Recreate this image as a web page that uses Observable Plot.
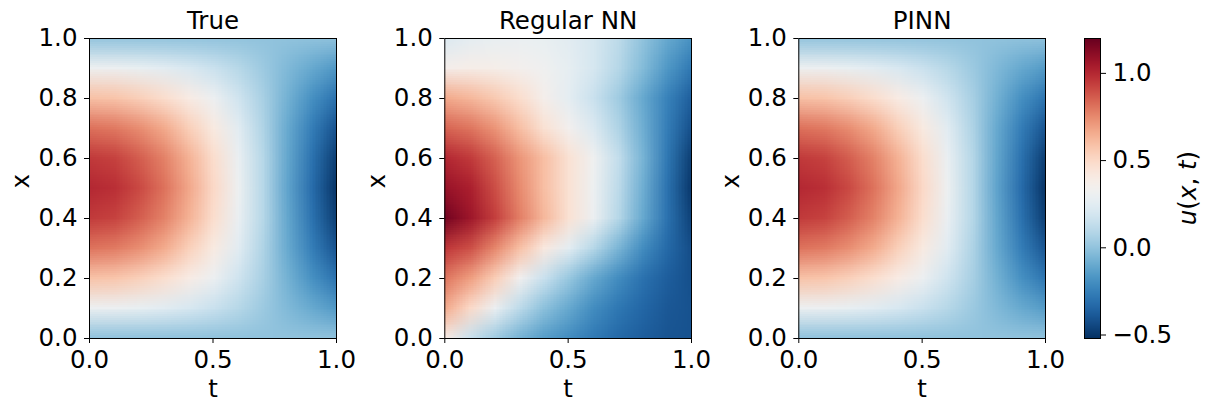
<!DOCTYPE html>
<html>
<head>
<meta charset="utf-8">
<script src="https://cdn.jsdelivr.net/npm/d3@7"></script>
<script src="https://cdn.jsdelivr.net/npm/@observablehq/plot@0.6"></script>
<style>
  html, body { margin: 0; padding: 0; background: white; }
  #fig { position: relative; width: 1211px; height: 411px; background: white; font-family: "DejaVu Sans", sans-serif; }
  #fig > svg { position: absolute; top: 0; }
</style>
</head>
<body>
<div id="fig"></div>
<script>
// Grid coordinates (sample points)
const tGrid = [0, 0.1, 0.2, 0.3, 0.4, 0.5, 0.6, 0.7, 0.8, 0.9, 1.0];
const xGrid = [0, 0.1, 0.2, 0.3, 0.4, 0.5, 0.6, 0.7, 0.8, 0.9, 1.0];

// Panel titles
const titles = ["True", "Regular NN", "PINN"];

// Colour-scale extent and tick labels
const uDomain = [-0.52, 1.2];
const xTicks = [0, 0.5, 1.0];
const yTicks = [0, 0.2, 0.4, 0.6, 0.8, 1.0];
const cbTicks = [-0.5, 0.0, 0.5, 1.0];

// u values: one row per x (0 → 1), columns t (0 → 1)
const uTrue = [
  [0.00, 0.00, 0.00, 0.00, 0.00, 0.00, 0.00, 0.00, 0.00, 0.00, 0.00],
  [0.31, 0.30, 0.28, 0.25, 0.21, 0.16, 0.10, 0.03, -0.04, -0.10, -0.16],
  [0.59, 0.58, 0.54, 0.48, 0.40, 0.30, 0.18, 0.06, -0.07, -0.19, -0.30],
  [0.81, 0.79, 0.74, 0.66, 0.54, 0.41, 0.25, 0.08, -0.10, -0.26, -0.41],
  [0.95, 0.93, 0.86, 0.77, 0.64, 0.48, 0.29, 0.10, -0.11, -0.30, -0.48],
  [1.00, 0.98, 0.91, 0.81, 0.67, 0.50, 0.31, 0.10, -0.12, -0.32, -0.51],
  [0.95, 0.93, 0.86, 0.77, 0.64, 0.48, 0.29, 0.10, -0.11, -0.30, -0.48],
  [0.81, 0.79, 0.74, 0.66, 0.54, 0.41, 0.25, 0.08, -0.10, -0.26, -0.41],
  [0.59, 0.58, 0.54, 0.48, 0.40, 0.30, 0.18, 0.06, -0.07, -0.19, -0.30],
  [0.31, 0.30, 0.28, 0.25, 0.21, 0.16, 0.10, 0.03, -0.04, -0.10, -0.16],
  [0.00, 0.00, 0.00, 0.00, 0.00, 0.00, 0.00, 0.00, 0.00, 0.00, 0.00]
];

const uRegularNN = [
  [0.40, 0.16, 0.04, -0.06, -0.14, -0.20, -0.27, -0.33, -0.37, -0.40, -0.41],
  [0.66, 0.50, 0.30, 0.12, -0.01, -0.10, -0.20, -0.28, -0.34, -0.39, -0.41],
  [0.80, 0.70, 0.55, 0.34, 0.16, 0.02, -0.10, -0.20, -0.30, -0.37, -0.42],
  [0.96, 0.90, 0.76, 0.60, 0.42, 0.26, 0.10, -0.05, -0.20, -0.33, -0.43],
  [1.17, 1.07, 0.94, 0.78, 0.62, 0.46, 0.30, 0.10, -0.10, -0.30, -0.47],
  [1.08, 1.03, 0.90, 0.75, 0.60, 0.46, 0.31, 0.12, -0.08, -0.30, -0.50],
  [1.00, 0.95, 0.85, 0.72, 0.60, 0.46, 0.32, 0.14, -0.06, -0.28, -0.48],
  [0.84, 0.80, 0.72, 0.60, 0.46, 0.34, 0.22, 0.08, -0.08, -0.26, -0.42],
  [0.66, 0.62, 0.56, 0.48, 0.36, 0.26, 0.16, 0.04, -0.10, -0.24, -0.37],
  [0.36, 0.38, 0.37, 0.35, 0.32, 0.27, 0.20, 0.10, -0.03, -0.16, -0.28],
  [0.22, 0.26, 0.28, 0.29, 0.28, 0.25, 0.20, 0.12, 0.00, -0.10, -0.18]
];

const uPINN = [
  [0.00, 0.00, 0.00, 0.00, 0.00, 0.00, 0.00, 0.00, 0.00, 0.00, 0.00],
  [0.31, 0.30, 0.28, 0.25, 0.21, 0.16, 0.10, 0.03, -0.04, -0.10, -0.15],
  [0.59, 0.58, 0.54, 0.48, 0.40, 0.30, 0.18, 0.06, -0.07, -0.19, -0.29],
  [0.81, 0.79, 0.74, 0.66, 0.54, 0.41, 0.25, 0.08, -0.10, -0.26, -0.40],
  [0.95, 0.93, 0.86, 0.77, 0.64, 0.48, 0.29, 0.10, -0.11, -0.30, -0.48],
  [1.00, 0.98, 0.91, 0.81, 0.67, 0.50, 0.31, 0.10, -0.12, -0.32, -0.51],
  [0.95, 0.93, 0.86, 0.77, 0.64, 0.48, 0.29, 0.10, -0.11, -0.30, -0.48],
  [0.81, 0.79, 0.74, 0.66, 0.54, 0.41, 0.25, 0.08, -0.10, -0.26, -0.40],
  [0.59, 0.58, 0.54, 0.48, 0.40, 0.30, 0.18, 0.06, -0.07, -0.19, -0.29],
  [0.31, 0.30, 0.28, 0.25, 0.21, 0.16, 0.10, 0.03, -0.04, -0.10, -0.15],
  [0.00, 0.00, 0.00, 0.00, 0.00, 0.00, 0.00, 0.00, 0.00, 0.00, 0.00]
];

const panels = [uTrue, uRegularNN, uPINN];

// ---------------------------------------------------------------
const FONT = "DejaVu Sans";
const FS = 24.5;
const fmt = d3.format(".1f");
const colorOpts = {type: "linear", scheme: "rdbu", reverse: true, domain: uDomain};
const fig = document.getElementById("fig");

const nT = tGrid.length, nX = xGrid.length;
const halfT = (tGrid[1] - tGrid[0]) / 2, halfX = (xGrid[1] - xGrid[0]) / 2;

// look up the sample whose grid cell contains (t, x)
function sampler(grid) {
  return (t, x) => {
    const j = d3.bisectCenter(tGrid, t);
    const i = d3.bisectCenter(xGrid, x);
    return grid[i][j];
  };
}

const panelLefts = [0, 355, 710];
const marginLefts = [89, 89.3, 88.3];
const marginRights = [19, 19, 20];

panels.forEach((grid, k) => {
  const svg = Plot.plot({
    width: 355,
    height: 411,
    marginLeft: marginLefts[k],
    marginRight: marginRights[k],
    marginTop: 38,
    marginBottom: 73,
    x: {domain: [0, 1]},
    y: {domain: [0, 1]},
    color: colorOpts,
    style: {fontFamily: FONT, fontSize: FS + "px", color: "black", background: "transparent", overflow: "visible"},
    marks: [
      Plot.raster({
        fill: sampler(grid),
        width: nT, height: nX,
        x1: tGrid[0] - halfT, x2: tGrid[nT - 1] + halfT,
        y1: xGrid[0] - halfX, y2: xGrid[nX - 1] + halfX,
        imageRendering: "auto",
        clip: true
      }),
      Plot.frame({stroke: "black", strokeWidth: 1}),
      Plot.axisX({ticks: xTicks, tickFormat: fmt, tickSize: 5, tickPadding: 7, label: null, fontSize: FS, fontFamily: FONT}),
      Plot.axisY({ticks: yTicks, tickFormat: fmt, tickSize: 5, tickPadding: 7, label: null, fontSize: FS, fontFamily: FONT}),
      Plot.text([titles[k]], {text: d => d, frameAnchor: "top", lineAnchor: "middle", dy: -17, fontSize: FS, fontFamily: FONT}),
      Plot.text(["t"], {text: d => d, frameAnchor: "bottom", lineAnchor: "middle", dy: 51, fontSize: FS, fontFamily: FONT}),
      Plot.text(["x"], {text: d => d, frameAnchor: "left", lineAnchor: "middle", dx: -68, rotate: -90, fontSize: FS, fontFamily: FONT})
    ]
  });
  svg.style.left = panelLefts[k] + "px";
  fig.appendChild(svg);
});

// Colour bar
const cb = Plot.plot({
  width: 146,
  height: 411,
  marginLeft: 19,
  marginRight: 111,
  marginTop: 38,
  marginBottom: 73,
  x: {domain: [0, 1], axis: null},
  y: {domain: uDomain},
  color: colorOpts,
  style: {fontFamily: FONT, fontSize: FS + "px", color: "black", background: "transparent", overflow: "visible"},
  marks: [
    Plot.raster({fill: (x, y) => y, x1: 0, x2: 1, y1: uDomain[0], y2: uDomain[1], width: 1, height: 300}),
    Plot.frame({stroke: "black", strokeWidth: 1}),
    Plot.axisY({anchor: "right", ticks: cbTicks, tickFormat: fmt, tickSize: 5, tickPadding: 7, label: null, fontSize: FS, fontFamily: FONT})
  ]
});
cb.style.left = "1065px";
fig.appendChild(cb);

const lab = d3.select(cb).append("text")
  .attr("transform", "translate(131,188) rotate(-90)")
  .attr("text-anchor", "middle")
  .attr("font-family", FONT)
  .attr("font-size", FS)
  .attr("fill", "black");
lab.append("tspan").attr("font-style", "italic").text("u");
lab.append("tspan").text("(");
lab.append("tspan").attr("font-style", "italic").text("x");
lab.append("tspan").text(", ");
lab.append("tspan").attr("font-style", "italic").text("t");
lab.append("tspan").text(")");
</script>
</body>
</html>
